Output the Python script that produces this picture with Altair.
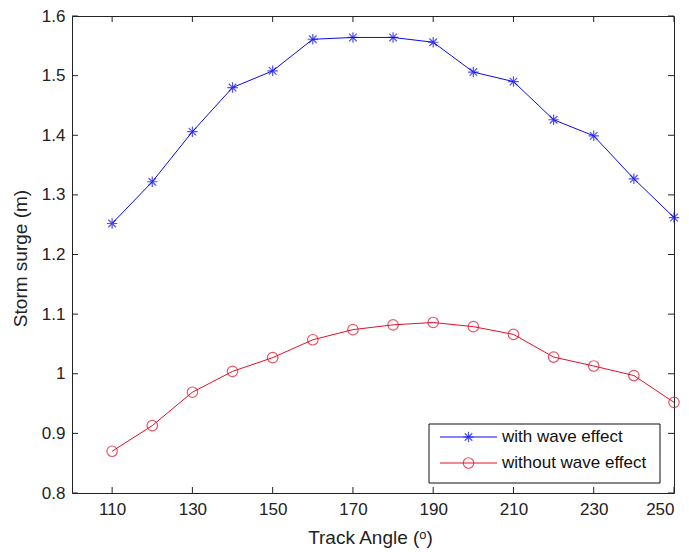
import altair as alt
import pandas as pd

angles = [110, 120, 130, 140, 150, 160, 170, 180, 190, 200, 210, 220, 230, 240, 250]
with_wave = [1.252, 1.322, 1.406, 1.480, 1.508, 1.561, 1.564, 1.564, 1.556, 1.506, 1.490, 1.426, 1.399, 1.327, 1.262]
without_wave = [0.870, 0.913, 0.969, 1.004, 1.027, 1.057, 1.074, 1.082, 1.086, 1.079, 1.066, 1.028, 1.013, 0.997, 0.952]
series_names = ["with wave effect", "without wave effect"]
x_ticks = [110, 130, 150, 170, 190, 210, 230, 250]
y_ticks = [0.8, 0.9, 1.0, 1.1, 1.2, 1.3, 1.4, 1.5, 1.6]

BLUE = "#0a0af0"
RED = "#e0102a"
AXC = "#222222"
FONT = "Liberation Sans"
STAR = "M-1,0L1,0M0,-1L0,1M-0.72,-0.72L0.72,0.72M-0.72,0.72L0.72,-0.72"
CIRCLE = "circle"

W, H = 602, 477

df = pd.DataFrame({
    "angle": angles * 2,
    "surge": with_wave + without_wave,
    "series": [series_names[0]] * len(angles) + [series_names[1]] * len(angles),
})

xs = alt.Scale(domain=[100, 250], nice=False, zero=False)
ys = alt.Scale(domain=[0.8, 1.6], nice=False, zero=False)
color = alt.Color("series:N", scale=alt.Scale(domain=series_names, range=[BLUE, RED]), legend=None)
shape = alt.Shape("series:N", scale=alt.Scale(domain=series_names, range=[STAR, CIRCLE]), legend=None)

base = alt.Chart(df)

lines = base.mark_line(strokeWidth=1, clip=True).encode(
    x=alt.X("angle:Q", scale=xs, axis=alt.Axis(
        values=x_ticks, title="Track Angle (ᵒ)", grid=False, domain=False, ticks=False,
        labelFont=FONT, labelFontSize=17, labelColor=AXC, labelPadding=8,
        titleFont=FONT, titleFontSize=19, titleFontWeight="normal", titleColor=AXC,
        titleX=298, titleY=44, titleBaseline="middle")),
    y=alt.Y("surge:Q", scale=ys, axis=alt.Axis(
        values=y_ticks, title="Storm surge (m)", grid=False, domain=False, ticks=False,
        labelExpr="datum.value == 1 ? '1' : format(datum.value, '.1f')",
        labelFont=FONT, labelFontSize=17, labelColor=AXC, labelPadding=7,
        titleFont=FONT, titleFontSize=19, titleFontWeight="normal", titleColor=AXC,
        titleX=-52, titleY=242, titleBaseline="middle")),
    color=color,
    detail="series:N",
)

points = base.mark_point(filled=False, size=110, strokeWidth=1.2).encode(
    x=alt.X("angle:Q", scale=xs),
    y=alt.Y("surge:Q", scale=ys),
    color=color,
    shape=shape,
)

xt = pd.DataFrame({"t": x_ticks})
yt = pd.DataFrame({"t": y_ticks})
tick_len = 6
xticks_b = alt.Chart(xt).mark_rule(color=AXC, strokeWidth=1).encode(
    x=alt.X("t:Q", scale=xs), y=alt.value(H), y2=alt.value(H - tick_len))
xticks_t = alt.Chart(xt).mark_rule(color=AXC, strokeWidth=1).encode(
    x=alt.X("t:Q", scale=xs), y=alt.value(0), y2=alt.value(tick_len))
yticks_l = alt.Chart(yt).mark_rule(color=AXC, strokeWidth=1).encode(
    y=alt.Y("t:Q", scale=ys), x=alt.value(0), x2=alt.value(tick_len))
yticks_r = alt.Chart(yt).mark_rule(color=AXC, strokeWidth=1).encode(
    y=alt.Y("t:Q", scale=ys), x=alt.value(W), x2=alt.value(W - tick_len))

one = pd.DataFrame({"k": [0]})
leg_layers = [
    alt.Chart(one).mark_rect(fill="white", stroke="#111", strokeWidth=1).encode(
        x=alt.value(357), x2=alt.value(588), y=alt.value(408), y2=alt.value(467))
]
rows = [(series_names[0], BLUE, STAR, 421), (series_names[1], RED, CIRCLE, 447)]
for name, col, shp, yy in rows:
    leg_layers.append(alt.Chart(one).mark_rule(color=col, strokeWidth=1).encode(
        x=alt.value(368), x2=alt.value(425), y=alt.value(yy)))
    leg_layers.append(alt.Chart(one).mark_point(shape=shp, filled=False, size=110, strokeWidth=1.2, color=col).encode(
        x=alt.value(396.5), y=alt.value(yy)))
    leg_layers.append(alt.Chart(one).mark_text(align="left", baseline="middle", font=FONT, fontSize=17, color="#111").encode(
        x=alt.value(430), y=alt.value(yy), text=alt.value(name)))

chart = alt.layer(
    lines, points, xticks_b, xticks_t, yticks_l, yticks_r, *leg_layers
).properties(
    width=W, height=H,
    autosize=alt.AutoSizeParams(type="none"),
    padding={"left": 72, "top": 16, "right": 15, "bottom": 59},
    background="white",
).configure_view(stroke="#222", strokeWidth=1)

chart.save("out.html", embed_options={"renderer": "svg", "actions": False})
